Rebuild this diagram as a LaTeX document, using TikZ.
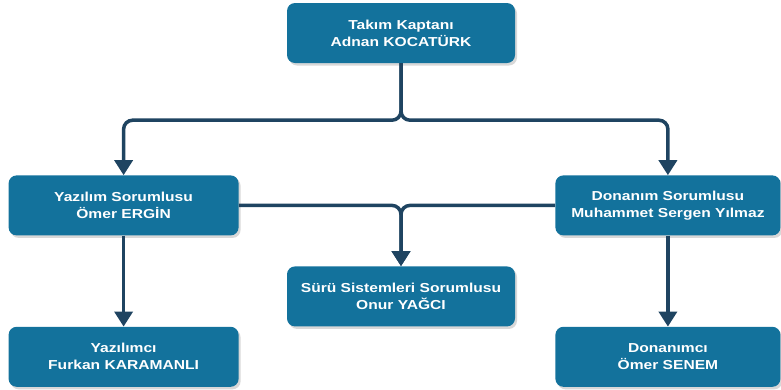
\documentclass[tikz,border=0pt]{standalone}
\usepackage{fontspec}
\setmainfont{Liberation Sans}
\newfontfamily\rolefont[FakeStretch=1.2]{Liberation Sans}
\usetikzlibrary{arrows.meta}
\usetikzlibrary{positioning}
\usetikzlibrary{shadows}
\definecolor{boxblue}{HTML}{13729C}
\definecolor{linkblue}{HTML}{1F4461}
\tikzset{
  role/.style={rectangle, rounded corners=8pt, fill=boxblue, text=white,
    font=\rolefont\fontsize{13}{17}\selectfont\bfseries, align=center,
    minimum width=228pt, minimum height=60pt, inner sep=2pt,
    drop shadow={shadow xshift=2pt, shadow yshift=-2.5pt, fill=black!30}},
  link/.style={draw=linkblue, line width=3.5pt, rounded corners=9pt,
    -{Triangle[width=18pt,length=15pt]}}
}
\begin{document}
\begin{tikzpicture}
    \useasboundingbox (0,0) rectangle (781pt,-389pt);

    \node [role] (cap) at (401pt,-33pt) {Takım Kaptanı\\Adnan KOCATÜRK};
    \node [role, minimum width=230pt, below left=112pt and 48pt of cap] (yaz) {Yazılım Sorumlusu\\Ömer ERGİN};
    \node [role, minimum width=225pt, below right=112pt and 40pt of cap] (don) {Donanım Sorumlusu\\Muhammet Sergen Yılmaz};
    \node [role, below=203pt of cap] (suru) {Sürü Sistemleri Sorumlusu\\Onur YAĞCI};
    \node [role, minimum width=230pt, below=91pt of yaz] (yazci) {Yazılımcı\\Furkan KARAMANLI};
    \node [role, minimum width=225pt, below=91pt of don] (donci) {Donanımcı\\Ömer SENEM};

    \coordinate (split) at ([yshift=-57pt]cap.south);
    \coordinate (mid) at (suru.north |- yaz.east);

    \draw [link] (cap.south) -- (split) -| (yaz.north);
    \draw [link] (cap.south) -- (split) -| (don.north);
    \draw [link] (yaz.east) -- (mid) -- (suru.north);
    \draw [link] (don.west) -- (mid) -- (suru.north);
    \draw [link] (yaz.south) -- (yazci.north);
    \draw [link] (don.south) -- (donci.north);
  \end{tikzpicture}
\end{document}
